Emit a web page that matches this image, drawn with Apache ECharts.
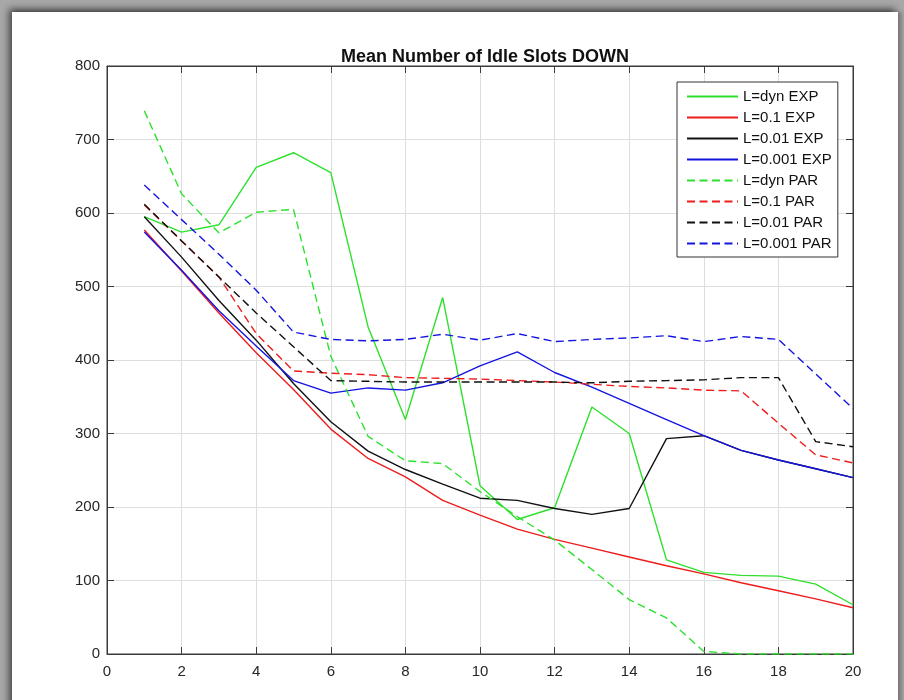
<!DOCTYPE html>
<html>
<head>
<meta charset="utf-8">
<script src="https://cdn.jsdelivr.net/npm/echarts@6/dist/echarts.min.js"></script>
<style>
  html, body { margin: 0; padding: 0; width: 904px; height: 700px; overflow: hidden; }
  #bg { position: absolute; left: 0; top: 0; width: 904px; height: 700px; background: #a8a8a8; }
  #panel { position: absolute; left: 12px; top: 12px; width: 886px; height: 700px; background: #fff;
           box-shadow: -3px -3px 7px rgba(0,0,0,0.6), 4px 0 4px rgba(0,0,0,0.2); }
  #chart { position: absolute; left: 0; top: 0; width: 904px; height: 700px; }
</style>
</head>
<body>
<div id="bg"></div>
<div id="panel"></div>
<div id="chart"></div>
<script>
const titleText = 'Mean Number of Idle Slots DOWN';
const xValues = [1,2,3,4,5,6,7,8,9,10,11,12,13,14,15,16,17,18,19,20];
const seriesNames = ['L=dyn EXP','L=0.1 EXP','L=0.01 EXP','L=0.001 EXP','L=dyn PAR','L=0.1 PAR','L=0.01 PAR','L=0.001 PAR'];
const dynEXP   = [595, 574, 584, 662, 682, 655, 445, 319, 485, 229, 183, 199, 336, 300, 128, 111, 107, 106, 95, 67];
const p1EXP    = [577, 521, 464, 410, 360, 306, 266, 241, 209, 189, 170, 156, 144, 132, 120, 109, 97, 86, 75, 63];
const p01EXP   = [595, 540, 481, 427, 368, 316, 276, 251, 231, 212, 209, 198, 190, 198, 293, 297, 277, 264, 252, 240];
const p001EXP  = [574, 522, 467, 419, 372, 355, 362, 359, 369, 392, 411, 383, 363, 341, 319, 297, 277, 264, 252, 240];
const dynPAR   = [739, 626, 573, 601, 605, 405, 296, 263, 259, 221, 187, 155, 115, 74, 49, 3.5, 0, 0, 0, 0];
const p1PAR    = [611, 562, 513, 436, 385, 382, 380, 376, 375, 374, 372, 370, 367, 364, 362, 359, 358, 314, 271, 260];
const p01PAR   = [612, 562, 513, 464, 418, 372, 371, 370, 370, 370, 370, 370, 369, 371, 372, 373, 376, 376, 289, 282];
const p001PAR  = [638, 591, 544, 495, 438, 428, 426, 428, 435, 427, 436, 425, 428, 430, 433, 425, 432, 428, 381, 334];

const seriesValues = [dynEXP, p1EXP, p01EXP, p001EXP, dynPAR, p1PAR, p01PAR, p001PAR];
const colors = ['#2ee02e', '#ee1c1c', '#111111', '#1414e0', '#2ee02e', '#ee1c1c', '#111111', '#1414e0'];
const dashed = [false, false, false, false, true, true, true, true];

const chart = echarts.init(document.getElementById('chart'), null, { renderer: 'canvas' });
const axisColor = '#3a3a3a';
const gridColor = '#dedede';
const font = '"Liberation Sans", Arial, Helvetica, sans-serif';

const series = seriesNames.map((name, i) => ({
  name: name,
  type: 'line',
  symbol: 'none',
  showSymbol: false,
  animation: false,
  lineStyle: { color: colors[i], width: 1.4, type: dashed[i] ? [8, 4.5] : 'solid' },
  itemStyle: { color: colors[i] },
  data: xValues.map((x, k) => [x, seriesValues[i][k]])
}));

chart.setOption({
  animation: false,
  backgroundColor: 'transparent',
  title: {
    text: titleText, left: 480, top: 43, textAlign: 'center',
    textStyle: { fontFamily: font, fontSize: 18, fontWeight: 'bold', color: '#111' }
  },
  grid: { left: 107, right: 51, top: 66, bottom: 46, containLabel: false, show: true,
          borderColor: axisColor, borderWidth: 1, backgroundColor: '#fff' },
  legend: {
    left: 677, top: 82, orient: 'vertical',
    data: seriesNames,
    itemWidth: 51, itemHeight: 14, itemGap: 6,
    padding: [7, 6, 6, 9],
    borderColor: '#333', borderWidth: 1, backgroundColor: '#fff',
    itemStyle: { opacity: 0, borderWidth: 0 },
    textStyle: { fontFamily: font, fontSize: 15, color: '#111' },
    selectedMode: false
  },
  xAxis: [{
    type: 'value', min: 0, max: 20, interval: 2, position: 'bottom',
    axisLine: { show: true, onZero: false, lineStyle: { color: axisColor } },
    axisTick: { show: true, inside: true, length: 7, lineStyle: { color: axisColor } },
    axisLabel: { fontFamily: font, fontSize: 15, color: '#262626', margin: 10 },
    splitLine: { show: true, lineStyle: { color: gridColor, width: 1 } }
  }, {
    type: 'value', min: 0, max: 20, interval: 2, position: 'top',
    axisLine: { show: true, onZero: false, lineStyle: { color: axisColor } },
    axisTick: { show: true, inside: true, length: 7, lineStyle: { color: axisColor } },
    axisLabel: { show: false }, splitLine: { show: false }
  }],
  yAxis: [{
    type: 'value', min: 0, max: 800, interval: 100, position: 'left',
    axisLine: { show: true, onZero: false, lineStyle: { color: axisColor } },
    axisTick: { show: true, inside: true, length: 7, lineStyle: { color: axisColor } },
    axisLabel: { fontFamily: font, fontSize: 15, color: '#262626', margin: 7 },
    splitLine: { show: true, lineStyle: { color: gridColor, width: 1 } }
  }, {
    type: 'value', min: 0, max: 800, interval: 100, position: 'right',
    axisLine: { show: true, onZero: false, lineStyle: { color: axisColor } },
    axisTick: { show: true, inside: true, length: 7, lineStyle: { color: axisColor } },
    axisLabel: { show: false }, splitLine: { show: false }
  }],
  series: series
});
</script>
</body>
</html>
